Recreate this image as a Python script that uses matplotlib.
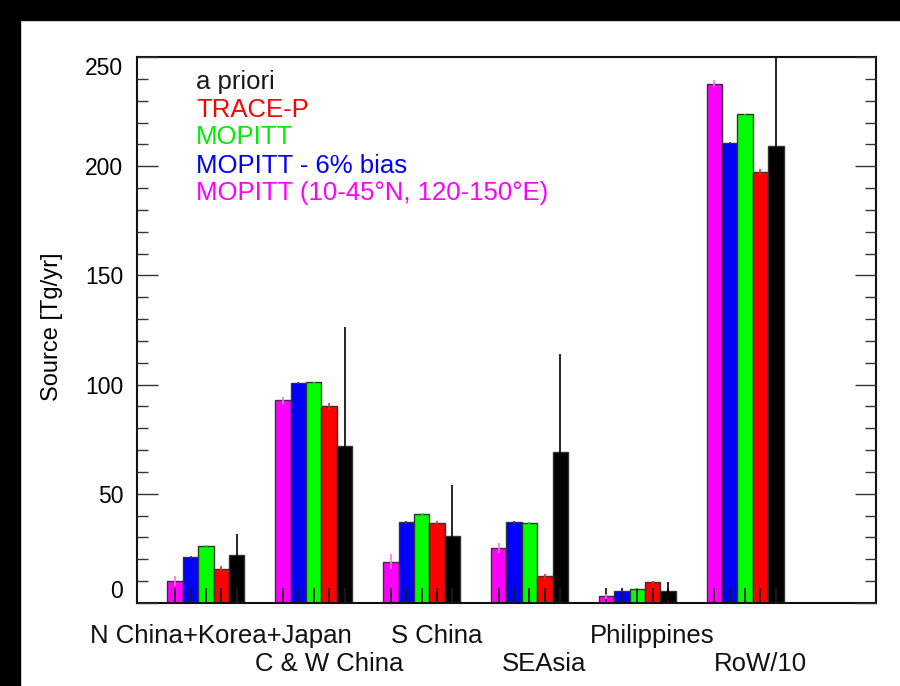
# CO source estimates by region: a priori vs TRACE-P vs MOPITT inversions

import numpy as np
import matplotlib
matplotlib.use('Agg')
import matplotlib.pyplot as plt
import matplotlib.transforms as mtrans
from matplotlib.patches import Rectangle

plt.rcParams['font.family'] = ['Liberation Sans', 'DejaVu Sans']

## data (Tg/yr)
regions = ['N China+Korea+Japan', 'C & W China', 'S China', 'SEAsia', 'Philippines', 'RoW/10']

mopitt_reg = [10.1, 92.8, 19.0, 25.2, 3.0, 237.8]
mopitt_reg_err = [2.3, 1.5, 3.6, 2.3, 1.3, 1.5]
mopitt_bias = [21.1, 100.7, 37.0, 37.2, 5.5, 210.7]
mopitt_bias_err = [0.6, 0.4, 0.6, 0.5, 0.6, 0.3]
mopitt = [26.1, 101.0, 40.8, 36.6, 6.6, 223.7]
mopitt_err = [0.5, 0.3, 0.3, 0.3, 0.4, 0.3]
trace_p = [15.7, 90.3, 36.6, 12.2, 9.4, 197.4]
trace_p_err = [1.3, 1.3, 1.0, 1.0, 0.7, 1.5]
apriori = [22.0, 72.0, 30.5, 69.0, 5.5, 209.4]
apriori_err = [9.8, 54.5, 23.5, 45.0, 4.1, 60.0]

legend_labels = ['a priori', 'TRACE-P', 'MOPITT', 'MOPITT - 6% bias',
                 'MOPITT (10-45\u00b0N, 120-150\u00b0E)']
legend_cols = ['#1a1a1a', 'red', '#00ee00', 'blue', 'magenta']

# bar order inside each group (left to right)
series = [mopitt_reg, mopitt_bias, mopitt, trace_p, apriori]
series_err = [mopitt_reg_err, mopitt_bias_err, mopitt_err, trace_p_err, apriori_err]
bar_cols = ['magenta', 'blue', '#00ff00', 'red', 'black']
err_cols = ['#ff70ff', '#2222ff', '#00ff00', '#ff2222', 'black']

## plot
fig = plt.figure(figsize=(9.0, 6.86), dpi=100)
ax = fig.add_axes([137/900, 83/686, 739/900, 546/686])
ax.set_axisbelow(False)

# black frame bands at top and left of the canvas
fig.patches.append(Rectangle((0, 1 - 20/686), 1, 20/686, transform=fig.transFigure,
                             color='black', zorder=0))
fig.patches.append(Rectangle((0, 0), 20/900, 1, transform=fig.transFigure,
                             color='black', zorder=0))

x = np.arange(1, len(regions) + 1)
w = 1 / 7.
centers = []
for i, (vals, errs) in enumerate(zip(series, series_err)):
    xi = x + (i - 2) * w
    centers.extend(xi)
    ax.bar(xi, vals, width=w, color=bar_cols[i], edgecolor='#333333', linewidth=1.0, zorder=2)
    ax.errorbar(xi, vals, yerr=errs, fmt='none', ecolor=err_cols[i], elinewidth=1.2,
                capsize=0, zorder=3)

ax.set_xlim(0.36, 7.215)
ax.set_ylim(0, 250)

# x ticks at every bar centre, no labels
ax.set_xticks(sorted(centers))
ax.set_xticklabels([])
ax.tick_params(axis='x', direction='in', length=11, width=1.3, color='#1a1a1a', top=False)

ax.set_yticks(np.arange(0, 251, 50))
ax.yaxis.set_minor_locator(matplotlib.ticker.MultipleLocator(10))
ax.tick_params(axis='y', which='major', direction='in', length=15, width=1.0, right=True,
               labelsize=16.5, pad=10, color='#333333')
ax.tick_params(axis='y', which='minor', direction='in', length=8, width=1.0, right=True,
               color='#333333')
ylabs = ax.get_yticklabels()
ylabs[0].set_va('bottom')
ylabs[-1].set_va('top')

for s in ax.spines.values():
    s.set_linewidth(1.5)
    s.set_color('#111111')

fig.text(52/900, 1 - 327/686, 'Source [Tg/yr]', rotation=90, ha='center', va='center',
         fontsize=17)

# category labels in two staggered rows
trans = mtrans.blended_transform_factory(ax.transData, ax.transAxes)
for k, name in enumerate(regions):
    yy = -33/546 if k % 2 == 0 else -61/546
    ax.text(x[k] + 0.14, yy, name, transform=trans, ha='center', va='center',
            fontsize=18.5, color='#111111')

# text legend
leg_y = [0.954, 0.903, 0.853, 0.800, 0.751]
for lab, col, yy in zip(legend_labels, legend_cols, leg_y):
    ax.text(0.0798, yy, lab, transform=ax.transAxes, ha='left', va='center',
            fontsize=18.5, color=col)

fig.savefig('out.png', dpi=100)
